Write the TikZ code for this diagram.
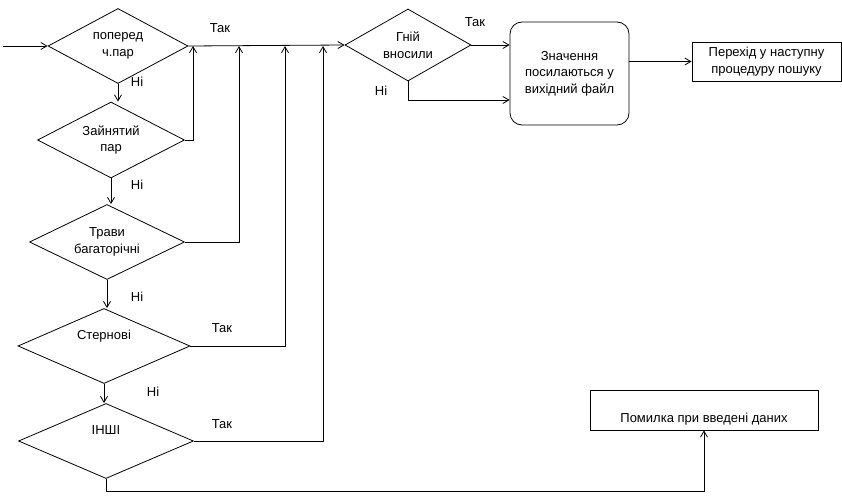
\documentclass[tikz,border=0pt]{standalone}
\usepackage{fontspec}
\setmainfont{Liberation Sans}
\usepackage{tikz}
\usetikzlibrary{shapes.geometric,arrows.meta}

\begin{document}
\begin{tikzpicture}[x=1pt, y=-1pt, line width=0.8pt,
  >={Straight Barb[length=6pt,width=7pt]},
  every node/.style={font=\fontsize{13}{16.5}\selectfont},
  decision/.style={draw, diamond, aspect=2, inner sep=0pt, align=center},
  block/.style={draw, rectangle, inner sep=2pt, align=center},
  valbox/.style={draw, rectangle, rounded corners=12pt, align=center}]
  \useasboundingbox (0,0) rectangle (842,500);

  % decisions on the left
  \node[decision, minimum width=140pt, minimum height=75pt] (par) at (118,46) {поперед\\ч.пар};
  \node[decision, minimum width=147pt, minimum height=76pt] (zan) at (111,140) {Зайнятий\\пар};
  \node[decision, minimum width=155pt, minimum height=75pt] (trav) at (107,242) {Трави\\багаторічні};
  \node[decision, minimum width=172pt, minimum height=75pt] (stern) at (104,346) {Стернові\\ \strut};
  \node[decision, minimum width=175pt, minimum height=75pt] (insh) at (106,441) {ІНШІ\\ \strut};

  % right part
  \node[decision, minimum width=126pt, minimum height=72pt] (gnij) at (408,45) {Гній\\вносили};
  \node[valbox, minimum width=119pt, minimum height=103pt] (val) at (569.5,73.5) {Значення\\посилаються у\\вихідний файл};
  \node[block, minimum width=149pt, minimum height=39pt] (next) at (766.5,61.5) {Перехід у наступну\\процедуру пошуку};
  \node[block, minimum width=228pt, minimum height=40pt] (err) at (704,410) {\strut\\Помилка при введені даних};

  \coordinate (start) at (3,46);
  \coordinate (j1) at (193,46);
  \coordinate (j2) at (239,46);
  \coordinate (j3) at (285,46);
  \coordinate (j4) at (323,46);

  \draw[->] (start) -- (par.west);
  \draw[->] (par.east) -- (gnij.west);
  \draw[->] (zan.east) -| (j1);
  \draw[->] (trav.east) -| (j2);
  \draw[->] (stern.east) -| (j3);
  \draw[->] (insh.east) -| (j4);

  \draw[->] (par.south) -- (par.south |- zan.north);
  \draw[->] (zan.south) -- (zan.south |- trav.north);
  \draw[->] (trav.south) -- (trav.south |- stern.north);
  \draw[->] (stern.south) -- (stern.south |- insh.north);
  \draw[->] (insh.south) -- ++(0,12) -| (err.south);

  \draw[->] (gnij.east) -- (gnij.east -| val.west);
  \draw[->] (gnij.south) |- (val.west |- 0,100);
  \draw[->] (val.east |- next.west) -- (next.west);

  % labels
  \node at (220,28) {Так};
  \node at (137,82) {Ні};
  \node at (137,185) {Ні};
  \node at (137,297) {Ні};
  \node at (222,328) {Так};
  \node at (153,392) {Ні};
  \node at (222,424) {Так};
  \node at (475,22) {Так};
  \node at (381,91) {Ні};
\end{tikzpicture}
\end{document}
